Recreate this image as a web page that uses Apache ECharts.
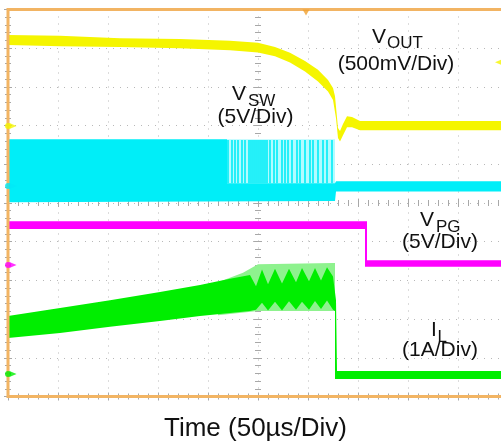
<!DOCTYPE html>
<html><head><meta charset="utf-8">
<script src="https://cdn.jsdelivr.net/npm/echarts@6/dist/echarts.min.js"></script>
<style>html,body{margin:0;padding:0;background:#fff}#c{width:501px;height:443px}</style>
</head><body><div id="c"></div>
<script>
// Time axis in divisions (50 µs/div), vertical axis in divisions (10 div screen)
const voutUpper = [[0,9.34],[1.04,9.32],[2.24,9.26],[3.44,9.24],[4.44,9.19],[5.0,9.14],[5.34,9.03],[5.64,8.88],[5.94,8.67],[6.2,8.44],[6.4,8.18],[6.5,7.97],[6.54,7.76],[6.6,6.94],[6.64,6.86],[6.7,7.04],[6.78,7.24],[6.88,7.22],[7.04,7.12],[8.24,7.12],[10,7.12]];
const voutLower = [[0,9.08],[1.04,9.05],[2.24,9.03],[3.44,9.0],[4.44,8.95],[5.0,8.89],[5.34,8.79],[5.64,8.63],[5.94,8.40],[6.2,8.14],[6.4,7.88],[6.5,7.66],[6.56,7.19],[6.6,6.68],[6.64,6.59],[6.7,6.75],[6.78,6.96],[6.88,6.96],[7.04,6.88],[10,6.88]];

const vswUpper = [[0,6.65],[4.38,6.65],[4.38,5.51],[6.54,5.51],[6.56,5.56],[10,5.56]];
const vswLower = [[0,5.02],[6.54,5.05],[6.56,5.30],[10,5.30]];
const vswBurstUpper = [[4.38,6.65],[6.54,6.65]];
const vswBurstLower = [[4.38,5.51],[6.54,5.51]];
const vswPulseTimes = [4.40,4.48,4.54,4.60,4.68,4.74,4.82,4.86,4.90,4.94,4.98,5.02,5.06,5.10,5.14,5.18,5.24,5.32,5.38,5.48,5.54,5.60,5.68,5.78,5.84,5.94,6.04,6.10,6.20,6.30,6.38,6.48];
const vswPulseLow = 5.51, vswPulseHigh = 6.63;

const vpgUpper = [[0,4.53],[7.18,4.53],[7.18,3.52],[10,3.52]];
const vpgLower = [[0,4.33],[7.14,4.33],[7.14,3.35],[10,3.35]];

const ilUpper = [[0,2.08],[1.04,2.29],[2.04,2.49],[3.04,2.70],[3.84,2.88],[4.44,3.04],[4.84,3.14],[4.96,2.85],[5.08,3.28],[5.2,2.90],[5.34,3.30],[5.48,2.92],[5.62,3.30],[5.76,2.95],[5.88,3.32],[6.02,2.98],[6.14,3.32],[6.26,3.00],[6.38,3.34],[6.5,3.10],[6.56,2.49],[6.58,0.66],[10,0.66]];
const ilLower = [[0,1.51],[1.04,1.64],[2.04,1.80],[3.04,1.95],[3.84,2.08],[4.44,2.16],[4.84,2.21],[4.96,2.24],[5.08,2.42],[5.2,2.22],[5.34,2.45],[5.48,2.22],[5.62,2.46],[5.76,2.24],[5.88,2.45],[6.02,2.24],[6.14,2.47],[6.26,2.26],[6.38,2.48],[6.5,2.24],[6.54,2.21],[6.54,0.45],[10,0.45]];
const ilRippleUpper = [[4.2,2.95],[4.7,3.2],[5.0,3.42],[6.5,3.45],[6.54,3.45]];
const ilRippleLower = [[4.2,2.10],[5.0,2.21],[6.54,2.21]];

const groundMarkers = [[0,6.99,'#f5f500'],[0,5.44,'#00e8f8'],[0,3.40,'#ff00ff'],[0,0.58,'#00ee00']];
const voutRightMarker = [[9.8,8.64]];
const triggerMarker = [[5.96,10]];

const C_Y='#f5f500', C_C='#00eef8', C_M='#ff00ff', C_G='#00ee00';

function band(upper, lower, color, z){
  return {type:'custom', z:z||2, data:[[0,0]], silent:true, clip:false,
    renderItem:function(p, api){
      const pts = upper.map(q=>api.coord(q)).concat(lower.slice().reverse().map(q=>api.coord(q)));
      return {type:'polygon', shape:{points:pts}, style:{fill:color}};
    }};
}
const tickCol='#a8a8a8';
function xa(pos, off, inside, grid){
  return {type:'value',min:0,max:10,interval:1,position:pos,offset:off,
    axisLine:{show:false},axisLabel:{show:false},
    axisTick:{show:true,inside:inside,length:4,lineStyle:{color:tickCol}},
    minorTick:{show:true,splitNumber:5,length:3,lineStyle:{color:tickCol}},
    splitLine:{show:!!grid,lineStyle:{type:[1,6],color:'#b8b8b8'}}};
}
const font='"Liberation Sans", Arial, sans-serif';
function txt(s,x,y,size,align){
  return {type:'text',x:x,y:y,silent:true,z:50,style:{text:s,font:size+'px '+font,fill:'#111',align:align||'left',verticalAlign:'middle'}};
}
const chart = echarts.init(document.getElementById('c'));
chart.setOption({
  animation:false,
  grid:{left:8,top:9.5,width:500,height:387,show:false,containLabel:false,outerBoundsMode:'none'},
  xAxis:[xa('bottom',0,true,true),xa('top',0,true,false),xa('bottom',-193.5,true,false),xa('bottom',-193.5,false,false)],
  yAxis:[xa('left',0,true,true),xa('right',0,true,false),xa('left',-250,true,false),xa('left',-250,false,false)],
  series:[
    band(voutUpper,voutLower,C_Y),
    band(vswBurstUpper,vswBurstLower,'#b4fbff'),
    band(vswUpper,vswLower,C_C),
    {type:'custom',z:3,silent:true,data:vswPulseTimes.map(t=>[t,vswPulseLow,vswPulseHigh]),
      encode:{x:0,y:[1,2]},
      renderItem:function(p,api){
        const a=api.coord([api.value(0),api.value(1)]), b=api.coord([api.value(0),api.value(2)]);
        return {type:'line',shape:{x1:a[0],y1:a[1],x2:b[0],y2:b[1]},style:{stroke:C_C,lineWidth:1.6}};
      }},
    band(vpgUpper,vpgLower,C_M),
    band(ilRippleUpper,ilRippleLower,'#8ef28e'),
    band(ilUpper,ilLower,C_G,3),
    {type:'scatter',z:20,clip:false,silent:true,symbol:'circle',symbolSize:6,
      data:groundMarkers.map(m=>({value:[m[0],m[1]],itemStyle:{color:m[2]}}))},
    {type:'scatter',z:20,clip:false,silent:true,symbol:'triangle',symbolRotate:-90,symbolSize:[6,7],symbolOffset:[5,0],
      data:groundMarkers.map(m=>({value:[m[0],m[1]],itemStyle:{color:m[2]}}))},
    {type:'scatter',z:20,clip:false,silent:true,symbol:'triangle',symbolRotate:90,symbolSize:[5,6],itemStyle:{color:C_Y},data:voutRightMarker},
    {type:'scatter',z:20,clip:false,silent:true,symbol:'triangle',symbolRotate:180,symbolSize:[7,6],symbolOffset:[0,3],itemStyle:{color:'#f0a030'},data:triggerMarker}
  ],
  graphic:[
    {type:'rect',silent:true,z:10,shape:{x:8,y:9.5,width:500,height:387},style:{fill:null,stroke:'#f2b463',lineWidth:3}},
    txt('V',372,37,21), txt('OUT',387,43.5,17), txt('(500mV/Div)',396,64,21,'center'),
    txt('V',232,94.5,21), txt('SW',248,101.5,17), txt('(5V/Div)',255.5,117,21,'center'),
    txt('V',420,220.5,21), txt('PG',436,227.5,17), txt('(5V/Div)',440,242.5,21,'center'),
    txt('I',431,330.5,21), txt('L',437.5,337.5,17), txt('(1A/Div)',440,350.5,21,'center'),
    txt('Time (50\u00b5s/Div)',255.5,429,26,'center')
  ]
});
</script></body></html>
